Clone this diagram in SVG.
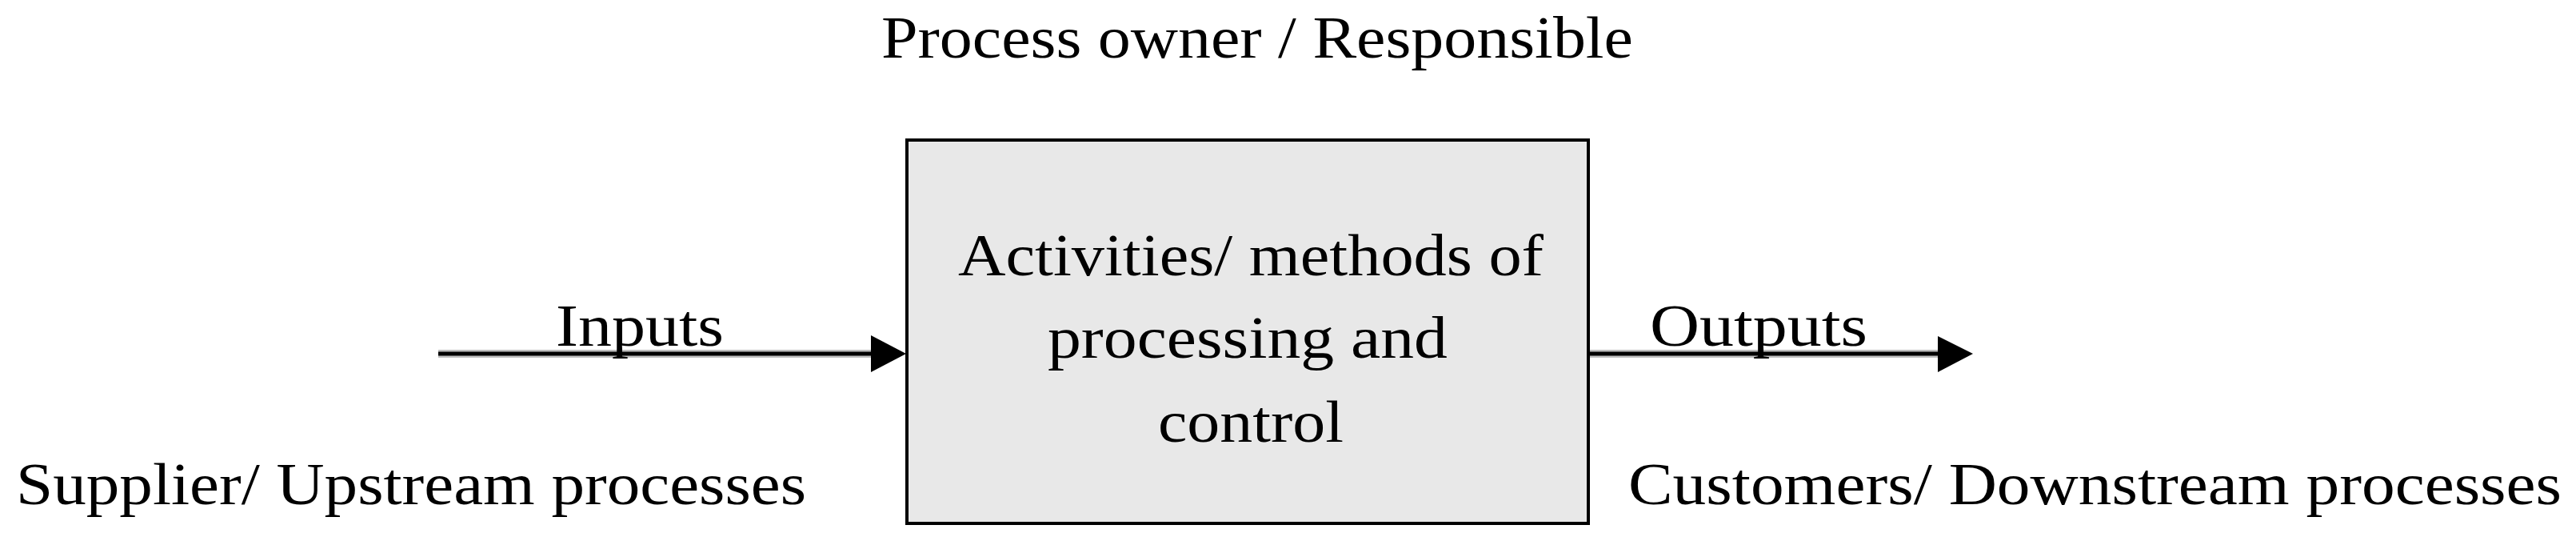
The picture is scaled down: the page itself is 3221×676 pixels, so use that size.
<svg xmlns="http://www.w3.org/2000/svg" width="3221" height="676" viewBox="0 0 3221 676">
<style>
.t{font-family:"Liberation Serif","Times New Roman",serif;font-size:75px;fill:#000}
.halo{stroke:#c0c0c0;stroke-width:10;fill:none}
.ln{stroke:#000;stroke-width:5;fill:none}
.head{fill:#000}
.box{fill:#e8e8e8;stroke:#000;stroke-width:4}
</style>
<rect width="3221" height="676" fill="#fff"/>
<g id="connectors">
<line class="halo" x1="548" y1="442" x2="1092" y2="442"/>
<line class="ln" x1="548" y1="442" x2="1092" y2="442"/>
<polygon class="head" points="1089,419 1133,442 1089,465"/>
<line class="halo" x1="1988" y1="442" x2="2426" y2="442"/>
<line class="ln" x1="1988" y1="442" x2="2426" y2="442"/>
<polygon class="head" points="2423,420 2467,442 2423,465"/>
</g>
<g id="process">
<rect class="box" x="1134" y="175" width="852" height="479"/>
<text class="t" x="1198" y="344" textLength="732" lengthAdjust="spacingAndGlyphs">Activities/ methods of</text>
<text class="t" x="1310" y="447" textLength="500" lengthAdjust="spacingAndGlyphs">processing and</text>
<text class="t" x="1448" y="552" textLength="232" lengthAdjust="spacingAndGlyphs">control</text>
</g>
<g id="owner">
<text class="t" x="1102" y="72" textLength="940" lengthAdjust="spacingAndGlyphs">Process owner / Responsible</text>
</g>
<g id="inputs">
<text class="t" x="695" y="432" textLength="210" lengthAdjust="spacingAndGlyphs">Inputs</text>
</g>
<g id="outputs">
<text class="t" x="2063" y="432" textLength="272" lengthAdjust="spacingAndGlyphs">Outputs</text>
</g>
<g id="supplier">
<text class="t" x="20" y="630" textLength="988" lengthAdjust="spacingAndGlyphs">Supplier/ Upstream processes</text>
</g>
<g id="customers">
<text class="t" x="2036" y="630" textLength="1167" lengthAdjust="spacingAndGlyphs">Customers/ Downstream processes</text>
</g>
</svg>
